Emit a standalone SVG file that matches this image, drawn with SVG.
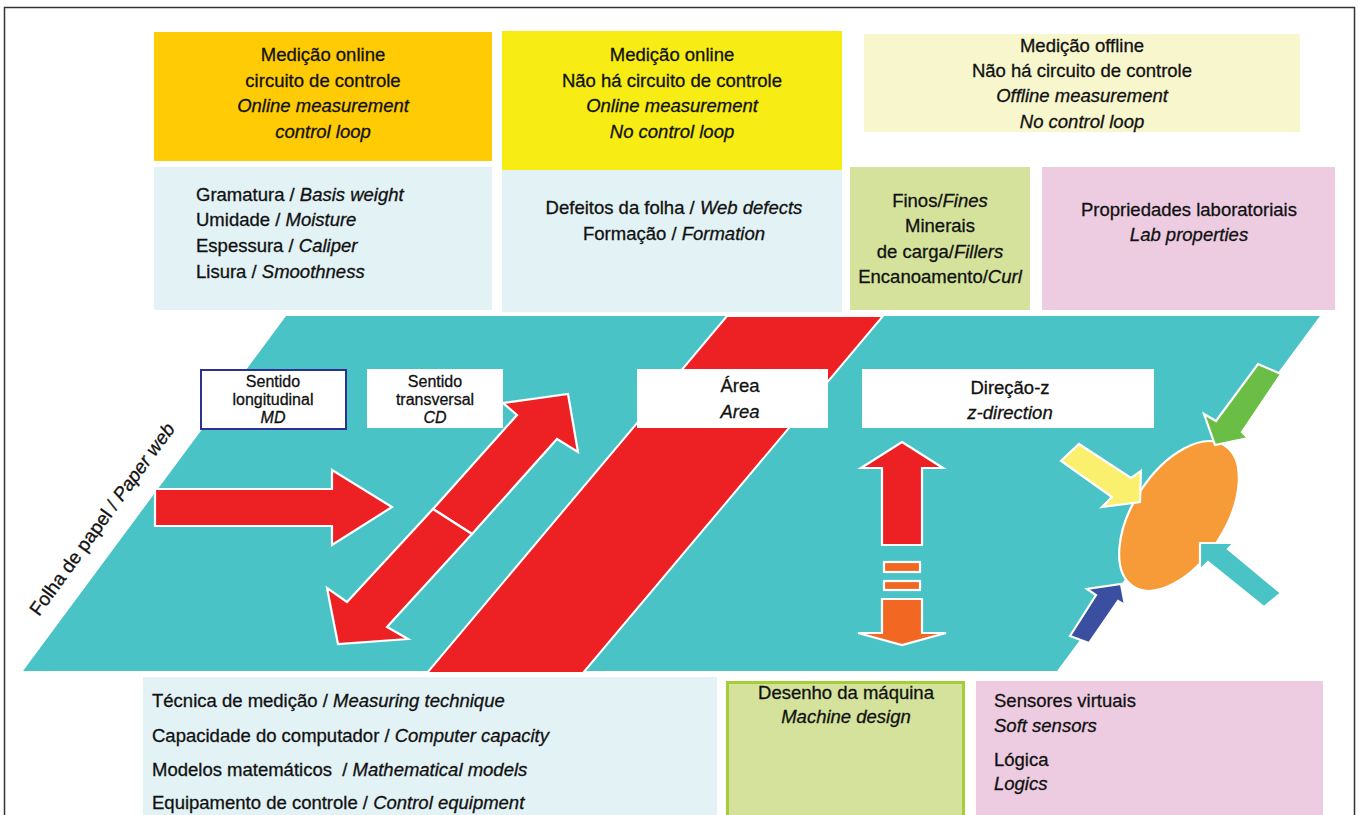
<svg xmlns="http://www.w3.org/2000/svg" width="1358" height="815" viewBox="0 0 1358 815">
  <style>
    text { font-family: "Liberation Sans", Arial, sans-serif; fill: #111; stroke: #111; stroke-width: 0.3; white-space: pre; }
    .t { font-size: 18.5px; }
    .s { font-size: 16px; }
    .c { text-anchor: middle; }
    .i { font-style: italic; }
    .arrow { stroke: #fff; stroke-width: 2.2; stroke-linejoin: miter; }
    .red { fill: #ED2024; }
    .orng { fill: #F26722; }
    .lbl { fill: #fff; }
  </style>

  <!-- outer frame -->
  <rect x="4.5" y="7.5" width="1350" height="830" fill="#fff" stroke="#333" stroke-width="1.5"/>

  <!-- online measurement with control loop -->
  <g id="online-loop">
    <rect x="154" y="32" width="338" height="129" fill="#FFCB05"/>
    <text class="t c" x="323" y="61">Medição online</text>
    <text class="t c" x="323" y="87">circuito de controle</text>
    <text class="t c i" x="323" y="112">Online measurement</text>
    <text class="t c i" x="323" y="138">control loop</text>
  </g>
  <g id="online-loop-props">
    <rect x="154" y="167" width="338" height="143" fill="#E2F2F5"/>
    <text class="t" x="196" y="201">Gramatura / <tspan class="i">Basis weight</tspan></text>
    <text class="t" x="196" y="226">Umidade / <tspan class="i">Moisture</tspan></text>
    <text class="t" x="196" y="252">Espessura / <tspan class="i">Caliper</tspan></text>
    <text class="t" x="196" y="278">Lisura / <tspan class="i">Smoothness</tspan></text>
  </g>

  <!-- online measurement without control loop -->
  <g id="online-noloop">
    <rect x="502" y="31" width="340" height="139" fill="#F7EC13"/>
    <text class="t c" x="672" y="61">Medição online</text>
    <text class="t c" x="672" y="87">Não há circuito de controle</text>
    <text class="t c i" x="672" y="112">Online measurement</text>
    <text class="t c i" x="672" y="138">No control loop</text>
  </g>
  <g id="online-noloop-props">
    <rect x="502" y="170" width="340" height="142" fill="#E2F2F5"/>
    <text class="t c" x="674" y="214">Defeitos da folha / <tspan class="i">Web defects</tspan></text>
    <text class="t c" x="674" y="240">Formação / <tspan class="i">Formation</tspan></text>
  </g>

  <!-- offline measurement -->
  <g id="offline">
    <rect x="864" y="34" width="436" height="98" fill="#F8F6CD"/>
    <text class="t c" x="1082" y="52">Medição offline</text>
    <text class="t c" x="1082" y="77">Não há circuito de controle</text>
    <text class="t c i" x="1082" y="102">Offline measurement</text>
    <text class="t c i" x="1082" y="128">No control loop</text>
  </g>
  <g id="offline-fines">
    <rect x="850" y="167" width="180" height="143" fill="#D4E29B"/>
    <text class="t c" x="940" y="207">Finos/<tspan class="i">Fines</tspan></text>
    <text class="t c" x="940" y="232">Minerais</text>
    <text class="t c" x="940" y="258">de carga/<tspan class="i">Fillers</tspan></text>
    <text class="t c" x="940" y="283">Encanoamento/<tspan class="i">Curl</tspan></text>
  </g>
  <g id="offline-lab">
    <rect x="1042" y="167" width="293" height="143" fill="#EDCCE2"/>
    <text class="t c" x="1189" y="216">Propriedades laboratoriais</text>
    <text class="t c i" x="1189" y="241">Lab properties</text>
  </g>

  <!-- paper web -->
  <g id="paper-web">
    <polygon points="286,316 1320,316 1057,671 23,671" fill="#4AC3C6"/>
    <text x="0" y="0" font-size="19" transform="translate(39,617) rotate(-54)">Folha de papel / <tspan class="i">Paper web</tspan></text>
  </g>

  <!-- area band across the web -->
  <g id="area-band">
    <polygon points="727,316 883,316 583,673 427,673" class="red" stroke="#fff" stroke-width="2"/>
  </g>

  <!-- direction arrows on the web -->
  <g id="connectors">
    <!-- machine direction -->
    <polygon class="arrow red" points="155,489 332,489 332,470 392,507 332,545 332,526 155,526"/>
    <!-- cross direction (two halves) -->
    <polygon class="arrow red" points="433,509 517,415 503,403 568,394 578,452 557,439 472,534"/>
    <polygon class="arrow red" points="433,509 472,534 387,627 408,639 338,644 327,588 347,602"/>
    <!-- z-direction -->
    <polygon class="arrow red" points="902,442 943,468 922,468 922,545 882,545 882,468 861,468"/>
    <rect class="arrow orng" x="884" y="562" width="36" height="10"/>
    <rect class="arrow orng" x="884" y="581" width="36" height="9"/>
    <polygon class="arrow orng" points="882,599 922,599 922,633 946,633 902,645 858,633 882,633"/>
  </g>

  <!-- label boxes -->
  <g id="label-md">
    <rect x="201" y="370" width="145" height="59" class="lbl" stroke="#2E3192" stroke-width="2"/>
    <text class="s c" x="273" y="387">Sentido</text>
    <text class="s c" x="273" y="405">longitudinal</text>
    <text class="s c i" x="273" y="423">MD</text>
  </g>
  <g id="label-cd">
    <rect x="367" y="369" width="136" height="59" class="lbl"/>
    <text class="s c" x="435" y="387">Sentido</text>
    <text class="s c" x="435" y="405">transversal</text>
    <text class="s c i" x="435" y="423">CD</text>
  </g>
  <g id="label-area">
    <rect x="637" y="369" width="191" height="59" class="lbl"/>
    <text class="t c" x="740" y="392">Área</text>
    <text class="t c i" x="740" y="418">Area</text>
  </g>
  <g id="label-z">
    <rect x="862" y="369" width="292" height="59" class="lbl"/>
    <text class="t c" x="1010" y="394">Direção-z</text>
    <text class="t c i" x="1010" y="419">z-direction</text>
  </g>

  <!-- sensor spot with incoming influences -->
  <g id="sensor-spot">
    <ellipse cx="1179" cy="516" rx="46" ry="84" transform="rotate(33 1179 516)" fill="#F79A38" stroke="#fff" stroke-width="2.2"/>
  </g>
  <g id="influences">
    <polygon class="arrow" fill="#6BBE45" points="1258,364 1281,374 1242,432 1248,438 1215,445 1204,414 1216,421"/>
    <polygon class="arrow" fill="#FAF06E" points="1079,444 1131,478 1141,471 1140,502 1102,507 1112,497 1061,461"/>
    <polygon class="arrow" fill="#4AC3C6" points="1200,543 1234,543 1228,549 1281,593 1264,607 1208,562 1200,570"/>
    <polygon class="arrow" fill="#3A4FA0" points="1070,636 1096,595 1087,589 1121,584 1125,605 1118,601 1089,643"/>
  </g>

  <!-- bottom boxes -->
  <g id="technique">
    <rect x="143" y="677" width="574" height="150" fill="#E2F2F5"/>
    <text class="t" x="152" y="707">Técnica de medição / <tspan class="i">Measuring technique</tspan></text>
    <text class="t" x="152" y="742">Capacidade do computador / <tspan class="i">Computer capacity</tspan></text>
    <text class="t" x="152" y="776">Modelos matemáticos  / <tspan class="i">Mathematical models</tspan></text>
    <text class="t" x="152" y="809">Equipamento de controle / <tspan class="i">Control equipment</tspan></text>
  </g>
  <g id="machine-design">
    <rect x="727.5" y="682.5" width="236" height="150" fill="#D4E29B" stroke="#A5CD39" stroke-width="3"/>
    <text class="t c" x="846" y="699">Desenho da máquina</text>
    <text class="t c i" x="846" y="723">Machine design</text>
  </g>
  <g id="soft-sensors">
    <rect x="976" y="681" width="347" height="150" fill="#EDCCE2"/>
    <text class="t" x="994" y="707">Sensores virtuais</text>
    <text class="t i" x="994" y="732">Soft sensors</text>
    <text class="t" x="994" y="766">Lógica</text>
    <text class="t i" x="994" y="790">Logics</text>
  </g>
</svg>
